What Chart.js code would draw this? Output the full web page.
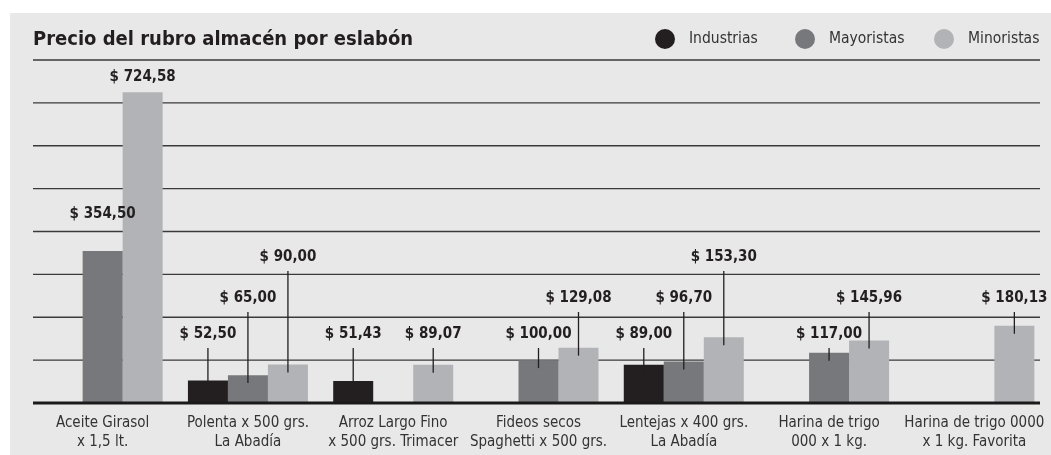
<!doctype html>
<html lang="es">
<head>
<meta charset="utf-8">
<title>Precio del rubro almacén por eslabón</title>
<script src="https://cdn.jsdelivr.net/npm/chart.js@4.4.1/dist/chart.umd.min.js"></script>
<style>
  html, body { margin: 0; padding: 0; background: #fff; }
  #wrap { position: relative; width: 1051px; height: 455px; }
</style>
</head>
<body>
<div id="wrap"><canvas id="myChart"></canvas></div>
<script>
// Data
const categories = [
  ['Aceite Girasol', 'x 1,5 lt.'],
  ['Polenta x 500 grs.', 'La Abadía'],
  ['Arroz Largo Fino', 'x 500 grs. Trimacer'],
  ['Fideos secos', 'Spaghetti x 500 grs.'],
  ['Lentejas x 400 grs.', 'La Abadía'],
  ['Harina de trigo', '000 x 1 kg.'],
  ['Harina de trigo 0000', 'x 1 kg. Favorita']
];
const seriesNames = ['Industrias', 'Mayoristas', 'Minoristas'];
const industrias = [null, 52.50, 51.43, null, 89.00, null, null];
const mayoristas = [354.50, 65.00, null, 100.00, 96.70, 117.00, null];
const minoristas = [724.58, 90.00, 89.07, 129.08, 153.30, 145.96, 180.13];
const yTicks = [0, 100, 200, 300, 400, 500, 600, 700, 800];

// Styles
const FONT = '"DejaVu Sans Condensed", "Liberation Sans", sans-serif';
const colors = ['#231f20', '#77787b', '#b1b3b6'];
const PANEL = '#e8e8e8';
const GRID_X = [33, 1040];
// label lift: >0 = px above baseline (with leader line), <0 = px above bar top (no leader)
const labelLift = [
  [0, 69, 69, 0, 69, 0, 0],
  [-37, 105, 0, 69, 105, 69, 0],
  [-15, 146, 69, 105, 146, 105, 105]
];

const fmt = v => '$ ' + v.toFixed(2).replace('.', ',');

const decor = {
  id: 'decor',
  beforeDraw(chart) {
    const ctx = chart.ctx;
    ctx.save();
    ctx.fillStyle = PANEL;
    ctx.fillRect(10, 13, chart.width - 10, chart.height - 13);
    ctx.restore();
  },
  beforeDatasetsDraw(chart) {
    // horizontal grid lines, a bit narrower than the bar area
    const ctx = chart.ctx;
    const y = chart.scales.y;
    ctx.save();
    ctx.strokeStyle = '#3a3a3a';
    ctx.lineWidth = 1.3;
    y.ticks.forEach(t => {
      const py = y.getPixelForValue(t.value);
      ctx.beginPath();
      ctx.moveTo(GRID_X[0], py);
      ctx.lineTo(GRID_X[1], py);
      ctx.stroke();
    });
    ctx.restore();
  },
  afterDatasetsDraw(chart) {
    const ctx = chart.ctx;
    const base = chart.scales.y.getPixelForValue(0);
    ctx.save();
    // thick baseline
    ctx.strokeStyle = '#1a1a1a';
    ctx.lineWidth = 3;
    ctx.beginPath();
    ctx.moveTo(GRID_X[0], base);
    ctx.lineTo(GRID_X[1], base);
    ctx.stroke();

    // value labels + leader lines
    ctx.font = 'bold 15px ' + FONT;
    ctx.fillStyle = '#231f20';
    ctx.textAlign = 'center';
    ctx.textBaseline = 'middle';
    chart.data.datasets.forEach((ds, d) => {
      const meta = chart.getDatasetMeta(d);
      ds.data.forEach((v, i) => {
        if (v == null) return;
        const bar = meta.data[i];
        const lift = labelLift[d][i];
        let ly;
        if (lift < 0) {
          ly = bar.y + lift;
        } else {
          ly = base - lift;
          const end = Math.min(bar.y + 8, base - 20);
          ctx.strokeStyle = '#231f20';
          ctx.lineWidth = 1.3;
          ctx.beginPath();
          ctx.moveTo(bar.x, ly + 14);
          ctx.lineTo(bar.x, end);
          ctx.stroke();
        }
        ctx.fillText(fmt(v), bar.x, ly);
      });
    });
    ctx.restore();
  },
  afterDraw(chart) {
    const ctx = chart.ctx;
    ctx.save();
    // title
    ctx.fillStyle = '#231f20';
    ctx.font = 'bold 20px ' + FONT;
    ctx.textAlign = 'left';
    ctx.textBaseline = 'alphabetic';
    ctx.fillText('Precio del rubro almacén por eslabón', 33, 45);
    // legend
    const lx = [665, 805, 944];
    ctx.font = '15.5px ' + FONT;
    ctx.textBaseline = 'middle';
    seriesNames.forEach((name, k) => {
      ctx.fillStyle = colors[k];
      ctx.beginPath();
      ctx.arc(lx[k], 39, 10, 0, Math.PI * 2);
      ctx.fill();
      ctx.fillStyle = '#333';
      ctx.fillText(name, lx[k] + 24, 39);
    });
    ctx.restore();
  }
};

const ctx = document.getElementById('myChart');
new Chart(ctx, {
  type: 'bar',
  data: {
    labels: categories,
    datasets: [
      { label: seriesNames[0], data: industrias, backgroundColor: colors[0] },
      { label: seriesNames[1], data: mayoristas, backgroundColor: colors[1] },
      { label: seriesNames[2], data: minoristas, backgroundColor: colors[2] }
    ]
  },
  options: {
    responsive: true,
    maintainAspectRatio: false,
    animation: false,
    datasets: {
      bar: { barPercentage: 1, categoryPercentage: 0.826, borderWidth: 0 }
    },
    layout: { padding: { top: 60, left: 30, right: 4, bottom: 0 } },
    plugins: {
      legend: { display: false },
      title: { display: false },
      tooltip: { enabled: false }
    },
    scales: {
      x: {
        grid: { display: false },
        border: { display: false },
        afterFit(axis) { axis.height = 52; },
        ticks: {
          color: '#333',
          font: { family: FONT, size: 15, lineHeight: 1.25 },
          padding: 3,
          maxRotation: 0,
          autoSkip: false
        }
      },
      y: {
        min: yTicks[0],
        max: yTicks[yTicks.length - 1],
        afterBuildTicks(axis) { axis.ticks = yTicks.map(v => ({ value: v })); },
        ticks: { display: false },
        grid: { display: false, drawTicks: false },
        border: { display: false }
      }
    }
  },
  plugins: [decor]
});
</script>
</body>
</html>
